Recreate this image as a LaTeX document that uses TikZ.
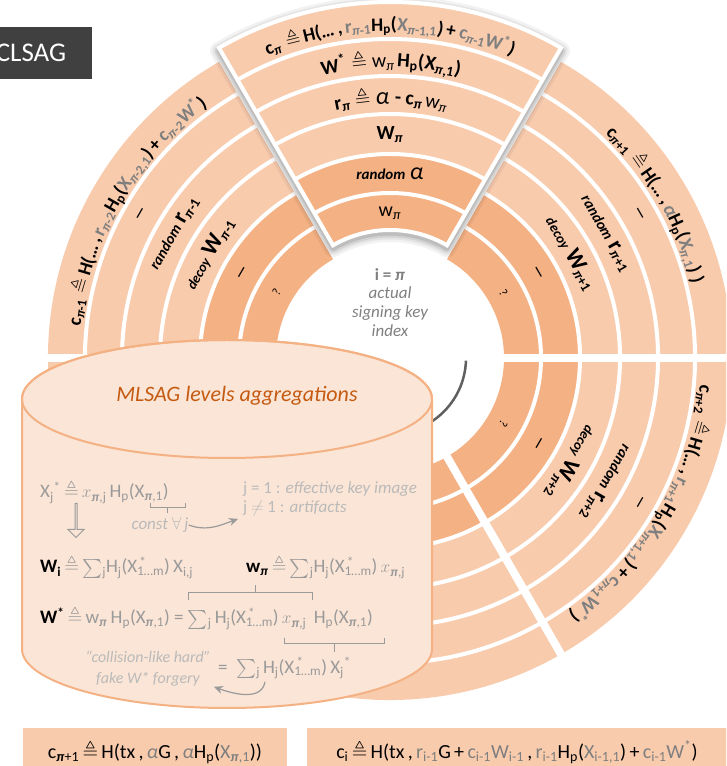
\documentclass[tikz,border=0pt]{standalone}
\usepackage{amsmath,amssymb}
\usepackage{fontspec}
\setmainfont{Carlito}
\usetikzlibrary{calc,arrows.meta,shapes.arrows}

\definecolor{lband}{HTML}{F8CBAD}
\definecolor{dband}{HTML}{F4B183}
\definecolor{cylfill}{HTML}{FBE5D6}
\definecolor{ttl}{HTML}{C55A11}
\definecolor{grtxt}{HTML}{7F7F7F}
\definecolor{cgray}{HTML}{9A9A9A}
\definecolor{lgray}{HTML}{BABABA}
\definecolor{boxdark}{HTML}{404040}
\definecolor{arcgray}{HTML}{5F5F5F}

\newcommand\pii{\textit{π}}
\newcommand\bpi{\textbf{\textit{π}}}
\newcommand\tq{\ensuremath{\triangleq}}
\newcommand\fs[1]{\fontsize{#1}{#1}\selectfont}
\newcommand\bandf{\fs{20}\bfseries}
\newcommand\ringf{\fs{19}\bfseries}
\newcommand\Xs{X\rlap{\textsuperscript{\,*}}\textsubscript{1…m}}

% pieces of the curved c texts (\idxA, \idxB are set before each ring)
\def\idxA{}\def\idxB{}
\protected\def\cC{\ringf c\textsubscript{\idxA}}
\protected\def\cH{\ringf\,\tq\,H(…\,,\ }
\protected\def\cR{\ringf\color{grtxt}r\textsubscript{\idxB}}
\protected\def\cA{\ringf\color{grtxt}\itshape α}
\protected\def\cP{\ringf H\textsubscript{p}(}
\protected\def\cX{\ringf\color{grtxt}X\textsubscript{\idxB,1}}
\protected\def\cQ{\ringf)\,+\,}
\protected\def\cW{\ringf\color{grtxt}c\textsubscript{\idxB}W\textsuperscript{*}}
\protected\def\cS{\ringf\ }
\protected\def\cE{\ringf)}
% pieces of r_pi and W* in the top slice
\protected\def\rA{\bandf r\textsubscript{\pii}\ }
\protected\def\rB{\bandf\tq\ }
\protected\def\rC{\fs{24}\itshape α\ }
\protected\def\rD{\bandf -\ c\textsubscript{\pii}\ }
\protected\def\rE{\fs{20}w\textsubscript{\pii}}
\protected\def\wA{\bandf W\textsuperscript{*}\ }
\protected\def\wB{\bandf\tq\ }
\protected\def\wC{\fs{20}w\textsubscript{\pii}\ }
\protected\def\wD{\bandf H\textsubscript{p}(}
\protected\def\wE{\bandf X\textsubscript{\pii,1})}

% set pieces one after the other, clockwise along a circle: angle, radius, pieces
\newdimen\chw
\newcommand\measure[1]{\pgfinterruptpicture\setbox0=\hbox{#1}\global\chw=\wd0\endpgfinterruptpicture}
\newcommand\ringtext[3]{%
  \gdef\totw{0}%
  \foreach \piece in {#3} {\measure{\piece}\pgfmathsetmacro\tmp{\totw+\chw}\xdef\totw{\tmp}}%
  \pgfmathsetmacro\tmp{#1+(\totw/2)/#2*180/pi}\xdef\curang{\tmp}%
  \foreach \piece in {#3} {%
    \measure{\piece}%
    \pgfmathsetmacro\midang{\curang-(\chw/2)/#2*180/pi}%
    \node[inner sep=0pt, anchor=base, rotate=\midang-90] at (\midang:#2) {\piece};
    \pgfmathsetmacro\tmp{\curang-\chw/#2*180/pi}\xdef\curang{\tmp}}%
}
\newcommand\slicepath{(60:114) arc[start angle=60, end angle=120, radius=114] -- (120:342) arc[start angle=120, end angle=60, radius=342] -- cycle}

\tikzset{
  ringtxt/.style={inner sep=0pt, font=\bandf},
  dashtxt/.style={inner sep=0pt, font=\fs{15}\bfseries},
  qmark/.style={inner sep=0pt, font=\fs{12}},
  cyltxt/.style={inner sep=0pt, anchor=west, text=cgray, font=\fs{19}},
  note/.style={inner sep=0pt, text=lgray, font=\fs{17}},
  bracket/.style={cgray, line width=1},
  curvearr/.style={cgray, line width=1.2, -{Stealth[length=9pt,width=8pt]}},
  eqbox/.style={fill=lband, minimum height=48, inner sep=0pt, font=\fs{20}},
}

\begin{document}
\begin{tikzpicture}[x=1pt, y=1pt]
  \useasboundingbox (0,0) rectangle (726,766);
  \clip (0,0) rectangle (726,766);

  % ring around the actual index
  \begin{scope}[shift={(390,408)}]
    \fill[dband] (120:114) arc[start angle=120, end angle=420, radius=114] -- (60:190) arc[start angle=60, end angle=-240, radius=190] -- cycle;
    \fill[lband] (120:190) arc[start angle=120, end angle=420, radius=190] -- (60:342) arc[start angle=60, end angle=-240, radius=342] -- cycle;
    \foreach \r in {151,190,230,268,305}
      \draw[white, line width=4] (120:\r) arc[start angle=120, end angle=420, radius=\r];
    \foreach \a in {0,180,240,300}
      \draw[white, line width=8] (\a:100) -- (\a:350);

    \foreach \a/\n in {30/+1, 150/-1, -30/+2} {
      \node[qmark, rotate=\a-90] (q\a) at (\a:131) {?};
      \node[dashtxt, rotate=\a-90] (da\a) at (\a:170) {—};
      \node[ringtxt, rotate=\a-90] (dw\a) at (\a:209) {{\fs{14}\itshape decoy}\ {\fs{23}W}\textsubscript{\pii\n}};
      \node[ringtxt, rotate=\a-90] (rr\a) at (\a:249) {{\fs{15}\itshape random}\ {\fs{23}r}\textsubscript{\pii\n}};
      \node[dashtxt, rotate=\a-90] (db\a) at (\a:287) {—};
    }
    \def\idxA{\pii+1}\def\idxB{\pii}
    \ringtext{30}{311}{\cC,\cH,\cA,\cP,\cX,\cE,\cS,\cE}
    \def\idxA{\pii-1}\def\idxB{\pii-2}
    \ringtext{150}{311}{\cC,\cH,\cR,\cP,\cX,\cQ,\cW,\cE}
    \def\idxA{\pii+2}\def\idxB{\pii+1}
    \ringtext{-30}{311}{\cC,\cH,\cR,\cP,\cX,\cQ,\cW,\cE}

    % travel direction
    \draw[arcgray, line width=2.5] (-2:76) arc[start angle=-2, end angle=-130, radius=76];

    % the actual slice, pulled out
    \begin{scope}[shift={(0,14)}]
      \foreach \w/\o in {18/0.05, 13/0.06, 9/0.08, 5/0.1}
        \draw[black, opacity=\o, line width=\w, line join=round, yshift=-3] \slicepath;
      \fill[dband] (60:114) arc[start angle=60, end angle=120, radius=114] -- (120:190) arc[start angle=120, end angle=60, radius=190] -- cycle;
      \fill[lband] (60:190) arc[start angle=60, end angle=120, radius=190] -- (120:342) arc[start angle=120, end angle=60, radius=342] -- cycle;
      \foreach \r in {151,190,230,268,305}
        \draw[white, line width=4] (60:\r) arc[start angle=60, end angle=120, radius=\r];
      \draw[white, line width=4] \slicepath;
      \node[ringtxt, font=\fs{20}] (t1) at (90:131) {w\textsubscript{\pii}};
      \node[ringtxt] (t2) at (90:170) {{\fs{15}\itshape random}\ {\fs{24}\mdseries\itshape α}};
      \node[ringtxt] (t3) at (90:209) {W\textsubscript{\pii}};
      \ringtext{90}{240}{\rA,\rB,\rC,\rD,\rE}
      \ringtext{90}{277}{\wA,\wB,\wC,\wD,\wE}
      \def\idxA{\pii}\def\idxB{\pii-1}
      \ringtext{90}{313}{\cC,\cH,\cR,\cP,\cX,\cQ,\cW,\cE}
    \end{scope}
  \end{scope}

  \node[text=grtxt, font=\fs{17}\bfseries] (ipi) at (390,491) {i = \textit{π}};
  \node[text=grtxt, font=\fontsize{17}{19}\selectfont\itshape, align=center] (idx) at (390,454) {actual\\signing key\\index};

  % aggregation cylinder
  \draw[dband, line width=2, fill=cylfill] (22,367) -- (22,117) arc[start angle=180, end angle=360, x radius=205, y radius=59]
    -- (432,367) arc[start angle=0, end angle=180, x radius=205, y radius=59] -- cycle;
  \draw[dband, line width=2] (227,367) ellipse[x radius=205, y radius=59];
  \node[text=ttl, font=\fs{22}\itshape] (title) at (237,370) {MLSAG levels aggregations};

  \node[cyltxt] (x1) at (40,274) {X\textsubscript{j}\textsuperscript{*}\,\tq\,$x$\textsubscript{\bpi,j}\,H\textsubscript{p}(X\textsubscript{\bpi,1})};
  \draw[bracket] (150,263) -- (150,258) -- (185,258) -- (185,263) (167,258) -- (167,253);
  \node[note, font=\fs{17}\itshape] (cst) at (160,241) {const $\forall$\,j};
  \node[note, anchor=west] (eff) at (243,277) {j = 1 : \textit{effective key image}};
  \node[note, anchor=west] (art) at (243,258) {j $\neq$ 1 : \textit{artifacts}};
  \draw[curvearr] (cst.east) to[out=-20, in=200] ([xshift=-5,yshift=-3]art.south west);
  \node[single arrow, draw=cgray, line width=1, shape border rotate=270, minimum height=34, minimum width=16,
    single arrow head extend=3.5, inner sep=0pt] (dn) at (76,246) {};

  \node[cyltxt] (w1) at (40,199) {\textcolor{black}{\textbf{W\textsubscript{i}}}\,\tq\,$\sum$\textsubscript{j}H\textsubscript{j}(\Xs)\,X\textsubscript{i,j}};
  \node[cyltxt] (w2) at (246,199) {\textcolor{black}{\textbf{w\textsubscript{\bpi}}}\,\tq\,$\sum$\textsubscript{j}H\textsubscript{j}(\Xs)\,$x$\textsubscript{\bpi,j}};
  \draw[bracket] (188,166) -- (188,173) -- (312,173) -- (312,166) (255,173) -- (255,181);
  \node[cyltxt] (w3) at (40,148) {\textcolor{black}{\textbf{W\textsuperscript{*}}}\,\tq\,w\textsubscript{\bpi}\,H\textsubscript{p}(X\textsubscript{\bpi,1}) = $\sum$\textsubscript{j}\,H\textsubscript{j}(\Xs)\,$x$\textsubscript{\bpi,j}\ \,H\textsubscript{p}(X\textsubscript{\bpi,1})};
  \draw[bracket] (284,128) -- (284,122) -- (384,122) -- (384,128) (334,122) -- (334,114);
  \node[cyltxt] (w4) at (218,98) {= \ $\sum$\textsubscript{j}\,H\textsubscript{j}(\Xs)\,X\textsubscript{j}\textsuperscript{*}};
  \node[note, font=\fontsize{16}{21}\selectfont\itshape, align=center] (frg) at (148,97) {“collision-like hard”\\fake W* forgery};
  \draw[curvearr] ([xshift=47,yshift=-3]w4.south west) to[out=-100, in=-20] ([xshift=3]frg.south east);

  % challenge formulas
  \node[eqbox, minimum width=264] (eqL) at (155,14) {c\textsubscript{\bpi+1}\,\tq\,H(tx\,,\,{\color{grtxt}\itshape α}G\,,\,{\color{grtxt}\itshape α}H\textsubscript{p}({\color{grtxt}X\textsubscript{\bpi,1}}))};
  \node[eqbox, minimum width=420] (eqR) at (517,14) {c\textsubscript{i}\,\tq\,H(tx\,,\,{\color{grtxt}r\textsubscript{i-1}}G\,+\,{\color{grtxt}c\textsubscript{i-1}W\textsubscript{i-1}}\,,\,{\color{grtxt}r\textsubscript{i-1}}H\textsubscript{p}({\color{grtxt}X\textsubscript{i-1,1}})\,+\,{\color{grtxt}c\textsubscript{i-1}W\textsuperscript{*}})};

  \node[fill=boxdark, text=white, font=\fs{27}, minimum width=122, minimum height=52, inner sep=0pt] (clsag) at (31,713) {CLSAG};
\end{tikzpicture}
\end{document}
